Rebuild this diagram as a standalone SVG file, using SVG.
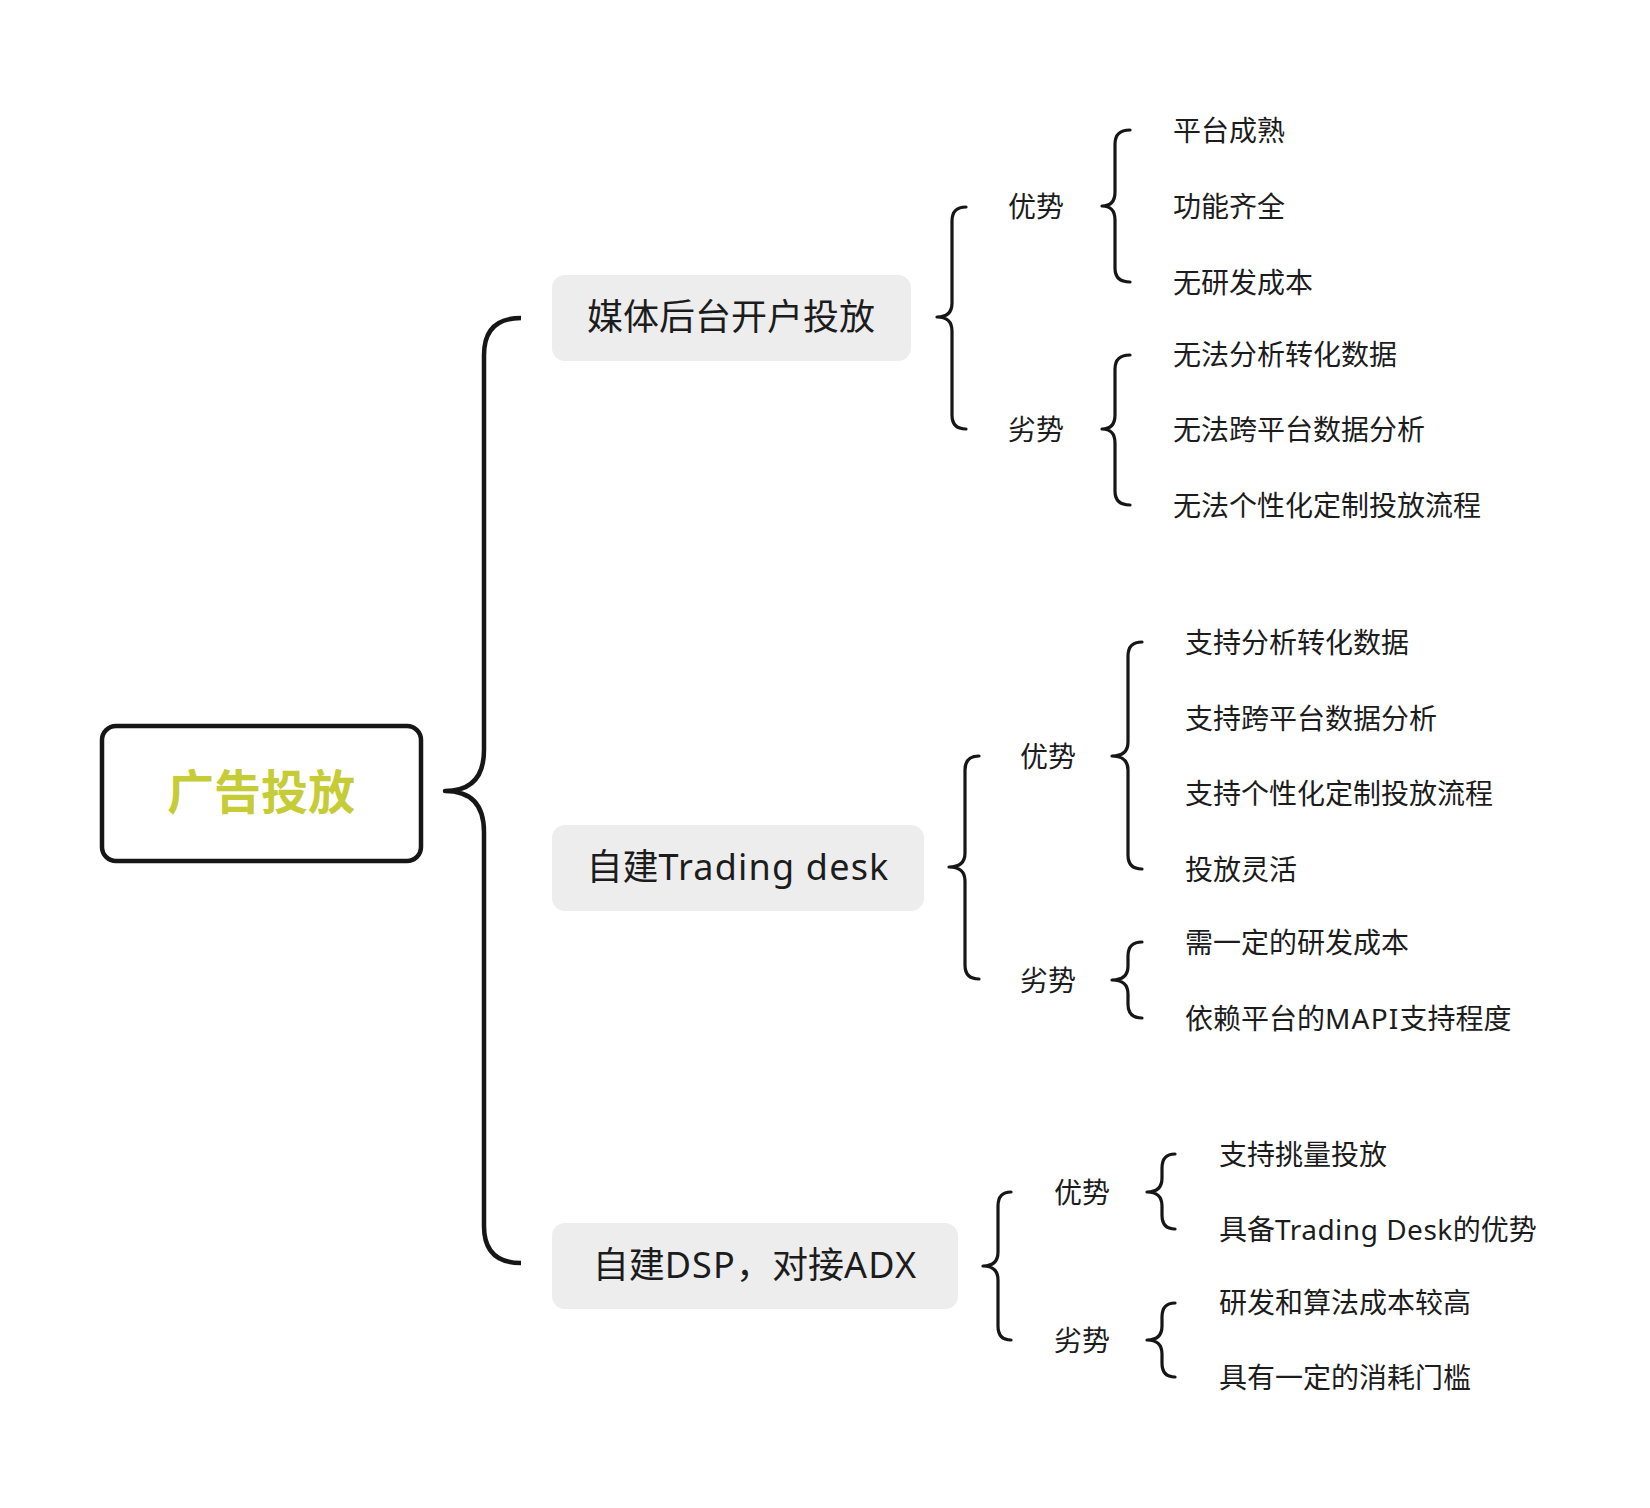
<svg xmlns="http://www.w3.org/2000/svg" width="1650" height="1508" viewBox="0 0 1650 1508">
<style>
.t{font-family:"Noto Sans","Noto Sans CJK SC",sans-serif;fill:#1c1c1c;dominant-baseline:central}
.leaf{font-size:28px}
.lab{font-size:28px}
.br{font-size:36px;text-anchor:middle}
.lt{letter-spacing:1.2px}
.ls{letter-spacing:0.5px}
.box{fill:#ededed}
.c{fill:none;stroke:#161616;stroke-width:3.2;stroke-linecap:round;stroke-linejoin:round}
.cm{fill:none;stroke:#161616;stroke-width:4.5;stroke-linecap:butt;stroke-linejoin:round}
</style>
<rect width="1650" height="1508" fill="#ffffff"/>
<g id="connectors">
<path class="cm" d="M521,318 Q484,318 484,355 L484,750 Q484,791 445,791 Q484,791 484,832 L484,1226 Q484,1263 521,1263"/>
<path class="c" d="M966,207 Q952,207 952,221 L952,303 Q952,317 937,317 Q952,317 952,331 L952,415 Q952,429 966,429"/>
<path class="c" d="M1130,130 Q1115,130 1115,144 L1115,192 Q1115,206 1102,206 Q1115,206 1115,220 L1115,268 Q1115,282 1130,282"/>
<path class="c" d="M1130,355 Q1115,355 1115,369 L1115,415 Q1115,429 1102,429 Q1115,429 1115,443 L1115,491 Q1115,505 1130,505"/>
<path class="c" d="M979,756 Q965,756 965,770 L965,853 Q965,867 949,867 Q965,867 965,881 L965,965 Q965,979 979,979"/>
<path class="c" d="M1142,642 Q1128,642 1128,656 L1128,742 Q1128,756 1112,756 Q1128,756 1128,770 L1128,855 Q1128,869 1142,869"/>
<path class="c" d="M1142,942 Q1128,942 1128,956 L1128,966 Q1128,980 1112,980 Q1128,980 1128,994 L1128,1004 Q1128,1018 1142,1018"/>
<path class="c" d="M1011,1192 Q998,1192 998,1206 L998,1252 Q998,1266 983,1266 Q998,1266 998,1280 L998,1326 Q998,1340 1011,1340"/>
<path class="c" d="M1175,1154 Q1162,1154 1162,1168 L1162,1178 Q1162,1192 1147,1192 Q1162,1192 1162,1206 L1162,1215 Q1162,1229 1175,1229"/>
<path class="c" d="M1175,1303 Q1162,1303 1162,1317 L1162,1326 Q1162,1340 1147,1340 Q1162,1340 1162,1354 L1162,1363 Q1162,1377 1175,1377"/>
</g>
<g id="root">
<rect x="102" y="726" width="319" height="135" rx="14" fill="#ffffff" stroke="#161616" stroke-width="4.5"/>
<text x="261" y="788" font-family="Noto Sans CJK SC,sans-serif" font-size="47" font-weight="bold" fill="#c5cc35" text-anchor="middle" dominant-baseline="central">广告投放</text>
</g>
<g id="n1">
<rect class="box" x="552" y="275" width="359" height="86" rx="13"/>
<text class="t br" x="731" y="316">媒体后台开户投放</text>
</g>
<g id="n2">
<rect class="box" x="552" y="825" width="372" height="86" rx="13"/>
<text class="t br" x="738" y="866">自建<tspan class="lt">Trading desk</tspan></text>
</g>
<g id="n3">
<rect class="box" x="552" y="1223" width="406" height="86" rx="13"/>
<text class="t br" x="755" y="1264">自建<tspan class="lt">DSP</tspan>，对接<tspan class="lt">ADX</tspan></text>
</g>
<g id="n1a"><text class="t lab" x="1008" y="206">优势</text></g>
<g id="n1b"><text class="t lab" x="1008" y="429">劣势</text></g>
<g id="n1a1"><text class="t leaf" x="1173" y="130">平台成熟</text></g>
<g id="n1a2"><text class="t leaf" x="1173" y="206">功能齐全</text></g>
<g id="n1a3"><text class="t leaf" x="1173" y="282">无研发成本</text></g>
<g id="n1b1"><text class="t leaf" x="1173" y="354">无法分析转化数据</text></g>
<g id="n1b2"><text class="t leaf" x="1173" y="429">无法跨平台数据分析</text></g>
<g id="n1b3"><text class="t leaf" x="1173" y="505">无法个性化定制投放流程</text></g>
<g id="n2a"><text class="t lab" x="1020" y="756">优势</text></g>
<g id="n2b"><text class="t lab" x="1020" y="980">劣势</text></g>
<g id="n2a1"><text class="t leaf" x="1185" y="642">支持分析转化数据</text></g>
<g id="n2a2"><text class="t leaf" x="1185" y="718">支持跨平台数据分析</text></g>
<g id="n2a3"><text class="t leaf" x="1185" y="793">支持个性化定制投放流程</text></g>
<g id="n2a4"><text class="t leaf" x="1185" y="869">投放灵活</text></g>
<g id="n2b1"><text class="t leaf" x="1185" y="942">需一定的研发成本</text></g>
<g id="n2b2"><text class="t leaf" x="1185" y="1018">依赖平台的<tspan class="lt">MAPI</tspan>支持程度</text></g>
<g id="n3a"><text class="t lab" x="1054" y="1192">优势</text></g>
<g id="n3b"><text class="t lab" x="1054" y="1340">劣势</text></g>
<g id="n3a1"><text class="t leaf" x="1219" y="1154">支持挑量投放</text></g>
<g id="n3a2"><text class="t leaf" x="1219" y="1229">具备<tspan class="ls">Trading Desk</tspan>的优势</text></g>
<g id="n3b1"><text class="t leaf" x="1219" y="1302">研发和算法成本较高</text></g>
<g id="n3b2"><text class="t leaf" x="1219" y="1377">具有一定的消耗门槛</text></g>
</svg>
